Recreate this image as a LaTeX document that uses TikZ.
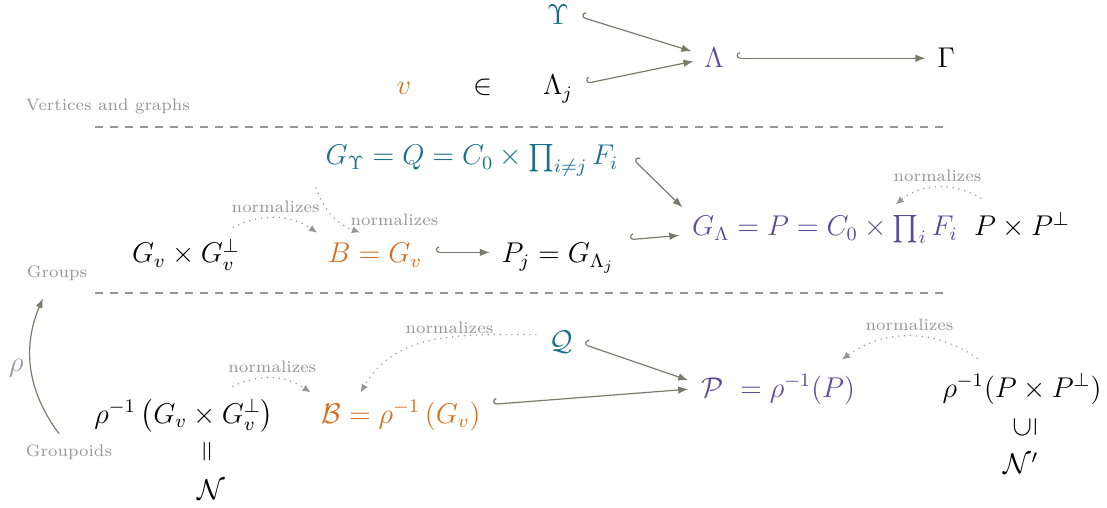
\documentclass[tikz,border=0pt]{standalone}
\usepackage{amsmath}
\usepackage{amssymb}
\usepackage{graphicx}
\usetikzlibrary{arrows.meta}
\usetikzlibrary{calc}

\definecolor{upsblue}{RGB}{27,110,140}
\definecolor{lampurple}{RGB}{92,76,152}
\definecolor{vorange}{RGB}{212,112,30}
\definecolor{arrgray}{RGB}{124,121,108}
\definecolor{notegray}{RGB}{150,150,150}

\begin{document}
\begin{tikzpicture}[x=0.42pt, y=-0.42pt,
    every node/.style={inner sep=1pt, font=\fontsize{11.5}{14}\selectfont},
    row/.style={anchor=base},
    incl/.style={draw=arrgray, line width=0.5pt, {Hooks[right]}-{Latex[length=4.2pt,width=3.2pt]}},
    norm/.style={draw=notegray, dotted, line width=0.5pt, -{Latex[length=3.4pt,width=3pt]}},
    note/.style={font=\scriptsize, text=notegray},
    sep/.style={draw=notegray, line width=0.5pt, dash pattern=on 3.4pt off 2.9pt}]

    \useasboundingbox (0,0) rectangle (1107,508);

    % vertices and graphs
    \node[row, text=upsblue] (ups) at (558,25) {$\Upsilon$};
    \node[row, text=lampurple] (lam) at (714,68) {$\Lambda$};
    \node[row] (gam) at (946,68) {$\Gamma$};
    \node[row, text=vorange] (v) at (404,95) {$v$};
    \node[row] (in) at (483,95) {$\in$};
    \node[row] (lamj) at (558,95) {$\Lambda_j$};

    \draw[incl] ($(ups.east)+(10,2)$) -- ($(lam.west)+(-10,-7)$);
    \draw[incl] ($(lamj.east)+(11,-6)$) -- ($(lam.west)+(-8,3)$);
    \draw[incl] ($(lam.east)+(10,0)$) -- ($(gam.west)+(-9,0)$);

    \node[note] (vert) at (108,106) {Vertices and graphs};
    \draw[sep] (95,127) -- (945,127);

    % groups
    \node[row, text=upsblue] (gups) at (472,165) {$G_\Upsilon = Q = C_0 \times \prod_{i \neq j} F_i$};
    \node[row] (gvperp) at (186,263) {$G_v \times G_v^\perp$};
    \node[row, text=vorange] (bgv) at (375,263) {$B = G_v$};
    \node[row] (pj) at (558,263) {$P_j = G_{\Lambda_j}$};
    \node[row, text=lampurple] (glam) at (825,236) {$G_\Lambda = P = C_0 \times \prod_i F_i$};
    \node[row] (ppperp) at (1022,236) {$P \times P^\perp$};

    \draw[incl] ($(gups.east)+(13,0)$) -- ($(glam.north west)+(-7,-5)$);
    \draw[incl] ($(bgv.east)+(11,-3)$) -- ($(bgv.east -| pj.west)+(-9,-3)$);
    \draw[incl] ($(pj.north east)+(13,-1)$) -- ($(glam.west)+(-10,6)$);

    \draw[norm] ($(gvperp.north east)+(-10,-9)$) to[bend left=30]
        node[note, above=1pt] {normalizes} ($(bgv.north west)+(-8,-8)$);
    \draw[norm] ($(gups.south west)+(-7,8)$) to[bend right=25]
        node[note, pos=0.6, anchor=west, xshift=4.5pt] {normalizes} ($(bgv.north)+(-15,-8)$);
    \draw[norm] ($(ppperp.north west)+(10,-11)$) to[bend right=35]
        node[note, above=1pt] {normalizes} ($(glam.north east)+(-65,-8)$);

    \node[note] (grp) at (57,273) {Groups};
    \draw[sep] (95,293) -- (945,293);

    % groupoids
    \node[row, text=upsblue] (qcal) at (561,350) {$\mathcal{Q}$};
    \node[row] (rgv) at (184,423) {$\rho^{-1}\left(G_v \times G_v^\perp\right)$};
    \node[row, text=vorange] (bcal) at (401,423) {$\mathcal{B} = \rho^{-1}\left(G_v\right)$};
    \node[row, text=lampurple] (pcal) at (778,397) {$\mathcal{P} \ = \rho^{-1}(P)$};
    \node[row] (rpp) at (1022,397) {$\rho^{-1}(P \times P^\perp)$};
    \node (eqbar) at (209,452) {\rotatebox{90}{$=$}};
    \node (ncal) at (211,490) {$\mathcal{N}$};
    \node (subs) at (1025,427) {\rotatebox{90}{$\subseteq$}};
    \node (nprime) at (1021,463) {$\mathcal{N}'$};

    \draw[incl] ($(qcal.east)+(9,3)$) -- ($(pcal.west)+(-10,-9)$);
    \draw[incl] ($(bcal.east)+(10,-11)$) -- ($(pcal.west)+(-10,0)$);

    \draw[norm] ($(rgv.north east)+(-44,-10)$) to[bend left=30]
        node[note, above=1pt] {normalizes} ($(bcal.north west)+(-8,-5)$);
    \draw[norm] ($(qcal.west)+(-10,-7)$) to[out=180, in=60]
        node[note, pos=0.2, anchor=south east, inner sep=0pt] {normalizes} ($(bcal.north west)+(42,-5)$);
    \draw[norm] ($(rpp.north west)+(38,-12)$) to[bend right=35]
        node[note, above=1pt] {normalizes} ($(pcal.north east)+(-16,-12)$);

    \node[note] (gpd) at (69,452) {Groupoids};
    \draw[draw=arrgray, line width=0.5pt, -{Latex[length=4pt,width=3pt]}]
        ($(gpd.north)+(-10,-8)$) to[bend left=30]
        node[left=2pt, text=notegray] {$\rho$} ($(grp.south)+(-14,15)$);

\end{tikzpicture}
\end{document}
